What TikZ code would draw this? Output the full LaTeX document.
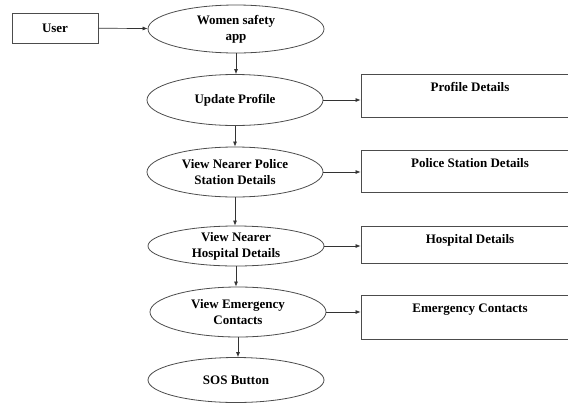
\documentclass[tikz,border=0pt]{standalone}
\usepackage{fontspec}
\setmainfont{Liberation Serif}
\usetikzlibrary{shapes.geometric,arrows.meta}
\begin{document}
\begin{tikzpicture}[x=1pt,y=-1pt,
    usecase/.style={ellipse,draw=black!70,line width=0.8pt,minimum width=176pt,
      minimum height=48pt,inner sep=0pt,align=center,
      font=\fontsize{13}{16}\selectfont\bfseries},
    detailbox/.style={rectangle,draw=black!70,line width=0.8pt,anchor=north,
      minimum width=218pt,inner ysep=8pt,text height=9pt,
      font=\fontsize{13}{16}\selectfont\bfseries},
    flow/.style={-{Latex[length=5pt,width=4pt]},draw=black!80,line width=0.7pt}]
    \useasboundingbox (0,0) rectangle (568,405);
    \clip (0,0) rectangle (568,405);
    \node[draw=black!70,line width=0.8pt,minimum width=86pt,minimum height=30pt,
      font=\fontsize{13}{16}\selectfont\bfseries] (user) at (55,28) {User};
    \node[usecase] (app) at (236,29) {Women safety\\app};
    \foreach \name/\x/\y/\h/\txt in {%
        upd/235/100/51/{Update Profile},
        pol/235/172/50/{View Nearer Police\\Station Details},
        hos/236/246/40/{View Nearer\\Hospital Details},
        emg/238/312/50/{View Emergency\\Contacts},
        sos/236/380/45/{SOS Button}} {
      \node[usecase,minimum height=\h pt] (\name) at (\x,\y) {\txt};
    }
    \foreach \name/\y/\d/\txt in {%
        prof/74/18/{Profile Details},
        pst/150/17/{Police Station Details},
        hsp/226/12/{Hospital Details},
        ect/295/19/{Emergency Contacts}} {
      \node[detailbox,text depth=\d pt] (\name) at (470,\y) {\txt};
    }
    \draw[flow] (user) -- (app);
    \foreach \a/\b in {app/upd,upd/pol,pol/hos,hos/emg,emg/sos} {
      \draw[flow] (\a.south) -- (\a.south |- \b.north);
    }
    \foreach \a/\b in {upd/prof,pol/pst,hos/hsp,emg/ect} {
      \draw[flow] (\a.east) -- (\a.east -| \b.west);
    }
  \end{tikzpicture}
\end{document}
